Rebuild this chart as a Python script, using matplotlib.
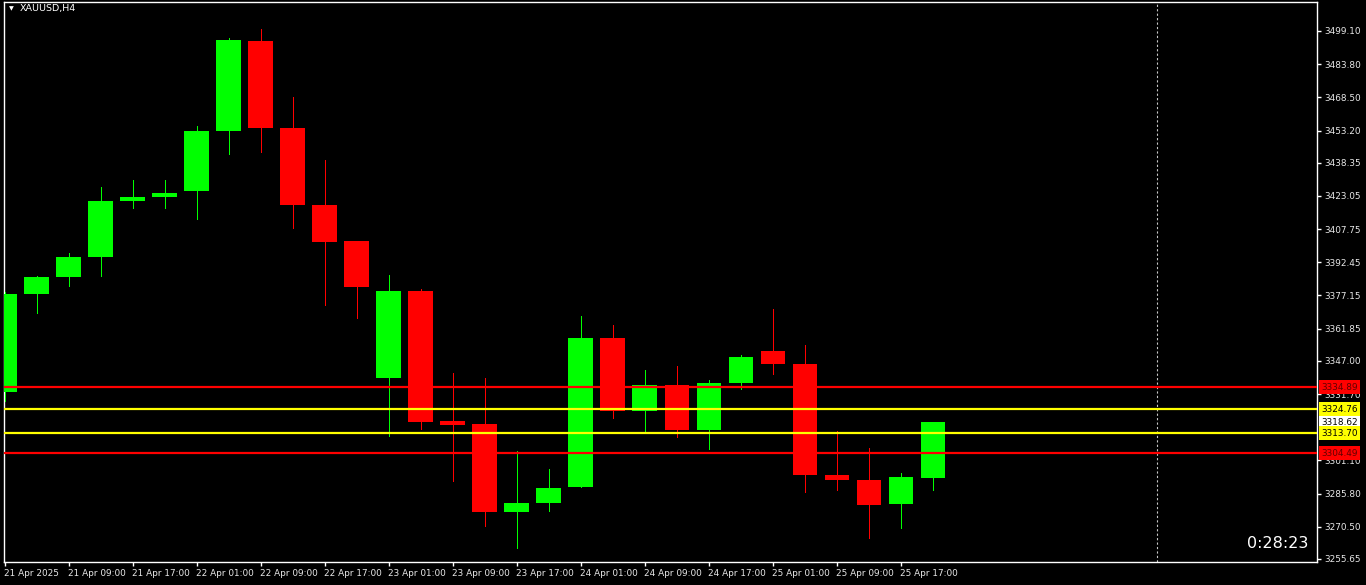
import numpy as np
import matplotlib
matplotlib.use("Agg")
import matplotlib.pyplot as plt
import matplotlib.transforms as mtransforms

# H4 candles, XAUUSD
opens = [3332.65, 3377.84, 3385.67, 3394.90, 3420.72, 3422.56, 3425.33, 3452.99,
         3494.49, 3454.38, 3418.87, 3402.27, 3339.10, 3379.22, 3319.28, 3317.90,
         3277.32, 3281.47, 3288.85, 3357.55, 3323.89, 3335.88, 3315.13, 3336.80,
         3351.55, 3345.56, 3294.38, 3292.08, 3281.01, 3293.00]
highs = [3378.76, 3386.14, 3396.74, 3427.17, 3430.40, 3430.40, 3455.30, 3495.87,
         3500.02, 3468.67, 3439.62, 3402.27, 3386.60, 3380.14, 3341.41, 3339.10,
         3305.45, 3297.15, 3367.69, 3363.54, 3342.79, 3344.64, 3338.18, 3349.71,
         3370.92, 3354.32, 3314.67, 3306.83, 3295.30, 3318.82]
lows = [3328.50, 3369.08, 3381.52, 3386.14, 3417.49, 3417.49, 3412.42, 3442.39,
        3443.31, 3408.27, 3372.76, 3366.77, 3312.36, 3315.59, 3291.61, 3270.87,
        3260.72, 3277.78, 3288.85, 3320.66, 3314.21, 3311.90, 3306.37, 3334.03,
        3340.95, 3286.54, 3287.46, 3265.33, 3269.94, 3287.46]
closes = [3377.84, 3385.67, 3394.90, 3420.72, 3422.56, 3424.41, 3452.99, 3494.95,
          3454.38, 3418.87, 3401.81, 3381.06, 3379.22, 3318.82, 3317.43, 3277.32,
          3281.47, 3288.39, 3357.55, 3323.89, 3335.88, 3315.13, 3336.80, 3348.79,
          3345.56, 3294.38, 3292.08, 3280.55, 3293.46, 3318.62]

time_labels = ["21 Apr 2025", "21 Apr 09:00", "21 Apr 17:00", "22 Apr 01:00",
               "22 Apr 09:00", "22 Apr 17:00", "23 Apr 01:00", "23 Apr 09:00",
               "23 Apr 17:00", "24 Apr 01:00", "24 Apr 09:00", "24 Apr 17:00",
               "25 Apr 01:00", "25 Apr 09:00", "25 Apr 17:00"]

price_ticks = [3499.10, 3483.80, 3468.50, 3453.20, 3438.35, 3423.05, 3407.75,
               3392.45, 3377.15, 3361.85, 3347.00, 3331.70, 3301.10, 3285.80,
               3270.50, 3255.65]

levels = [3334.89, 3324.76, 3313.70, 3304.49]
level_colors = ["#ff0000", "#ffff00", "#ffff00", "#ff0000"]
bid = 3318.62
countdown = "0:28:23"

W, H = 1366, 585
fig = plt.figure(figsize=(W / 100, H / 100), dpi=100, facecolor="black")
ax = fig.add_axes([4 / W, (H - 562) / H, (1317 - 4) / W, (562 - 2) / H])
ax.set_facecolor("black")

x = np.arange(len(opens))
o = np.array(opens)
c = np.array(closes)
cols = np.where(c >= o, "#00ff00", "#ff0000")

ax.vlines(x, lows, highs, colors=cols, lw=0.72, zorder=3, antialiased=False)
body = np.where(np.abs(c - o) < 0.5, 0.5, c - o)
ax.bar(x, body, bottom=o, width=0.78, color=cols, lw=0, zorder=4)

for lv, lc in zip(levels, level_colors):
    ax.axhline(lv, color=lc, lw=1.6, zorder=5)

ax.axvline(36, color="#c8c8c8", lw=0.8, ls=(0, (2, 2)), zorder=2)

ax.set_xlim(-0.03, 41.0)
ax.set_ylim(3254.26, 3512.47)

for s in ax.spines.values():
    s.set_color("white")
    s.set_linewidth(1)

ax.yaxis.tick_right()
ax.set_yticks(price_ticks)
ax.set_yticklabels(["%.2f" % p for p in price_ticks])
ax.set_xticks(np.arange(0, 2 * len(time_labels), 2))
ax.set_xticklabels(time_labels, ha="left")
ax.tick_params(axis="both", colors="white", labelcolor="#e8e8e8", labelsize=6.4,
               length=3, width=1, direction="out")
ax.tick_params(axis="y", pad=2)
ax.tick_params(axis="x", pad=2)
offset = mtransforms.ScaledTranslation(-1 / 100, 0, fig.dpi_scale_trans)
for lab in ax.get_xticklabels():
    lab.set_transform(lab.get_transform() + offset)

# price boxes on the right scale
trans = mtransforms.blended_transform_factory(ax.transAxes, ax.transData)
box_x = (1321 - 4) / (1317 - 4)
label_boxes = [(levels[0], "#ff0000", "#600000"), (levels[1], "#ffff00", "black"),
               (bid, "white", "black"), (levels[2], "#ffff00", "black"),
               (levels[3], "#ff0000", "#600000")]
for val, fc, tc in label_boxes:
    ax.text(box_x, val, "%.2f" % val, transform=trans, ha="left", va="center",
            fontsize=6.4, color=tc, zorder=10, clip_on=False,
            bbox=dict(boxstyle="square,pad=0.25", fc=fc, ec="none"))

# symbol caption and bar countdown
fig.text(9 / W, 1 - 9 / H, "\u25bc", color="white", fontsize=4.5, va="center", ha="left")
fig.text(20 / W, 1 - 9 / H, "XAUUSD,H4", color="white", fontsize=6.8, va="center", ha="left")
fig.text(1308 / W, 1 - 543 / H, countdown, color="white", fontsize=11.5, va="center", ha="right")

fig.savefig("out.png", dpi=100, facecolor="black")
